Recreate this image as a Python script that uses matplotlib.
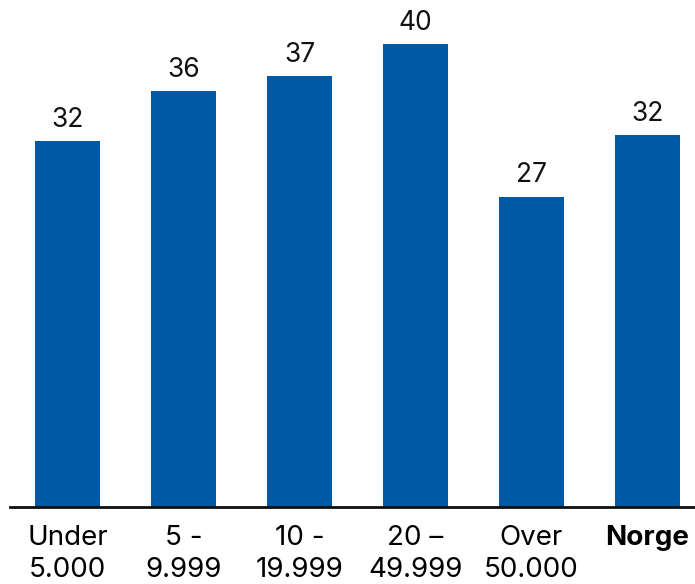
import matplotlib
matplotlib.use("Agg")
import matplotlib.pyplot as plt

categories = ["Under\n5.000", "5 -\n9.999", "10 -\n19.999", "20 –\n49.999", "Over\n50.000", "Norge"]
values = [31.6, 35.9, 37.2, 40.0, 26.8, 32.1]
bar_color = "#005AA3"

plt.rcParams['font.family'] = ['Inter', 'DejaVu Sans']

fig = plt.figure(figsize=(6.95, 5.84), dpi=100)
ax = fig.add_axes([0.0144, 0.1318, 1 - 0.0144, 1 - 0.1318])

x = list(range(len(categories)))
bars = ax.bar(x, values, width=0.56, color=bar_color)
for b, v in zip(bars, values):
    ax.annotate(f"{v:.0f}", (b.get_x() + b.get_width() / 2, v), xytext=(0, 6),
                textcoords="offset points", ha="center", va="bottom", fontsize=19, color="#111111")

ax.set_xlim(-0.496, 5.41)
ax.set_ylim(0, 43.8)
ax.set_xticks(x)
ax.set_xticklabels(categories, fontsize=20, linespacing=1.3)
ax.get_xticklabels()[-1].set_fontweight("bold")
ax.tick_params(axis="x", length=0, pad=13)
ax.set_yticks([])
for s in ["top", "right", "left"]:
    ax.spines[s].set_visible(False)
ax.spines["bottom"].set_linewidth(2)
ax.spines["bottom"].set_color("#111111")

fig.savefig("out.png", dpi=100)
